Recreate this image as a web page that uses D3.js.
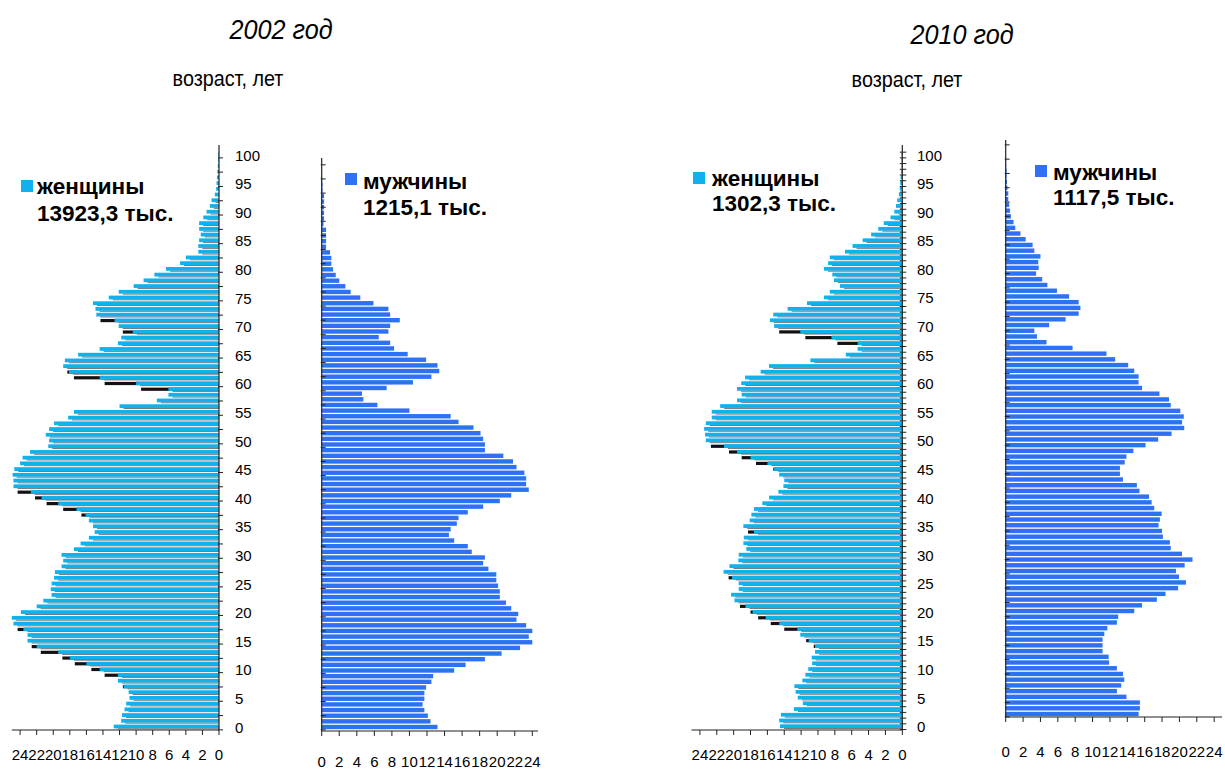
<!DOCTYPE html>
<html><head><meta charset="utf-8">
<script src="https://cdn.jsdelivr.net/npm/d3@7"></script>
<style>
body{margin:0;background:#fff}
svg{display:block}
text{font-family:"Liberation Sans",Arial,Helvetica,sans-serif;fill:#000}
</style>
</head><body>
<svg id="chart" width="1225" height="771"></svg>
<script>
// ---------------- DATA ----------------
const ages = d3.range(0, 101);
const ageLabels = d3.range(0, 101, 5);
const xTicks = d3.range(0, 25, 2);

const titles = ["2002 год", "2010 год"];
const axisTitle = "возраст, лет";
const legendWomen = ["женщины", "13923,3 тыс.", "1302,3 тыс."];
const legendMen = ["мужчины", "1215,1 тыс.", "1117,5 тыс."];

const women2002 = [12.7,11.8,11.7,11.4,11.2,10.8,10.9,11.5,12.2,12.2,
  14.4,16.0,18.0,19.4,22.0,23.1,23.1,23.6,24.8,25.0,
  23.9,22.0,21.2,20.2,20.3,20.2,19.9,19.8,19.0,18.8,
  19.0,17.5,16.7,15.7,15.0,15.2,15.7,16.1,17.2,19.4,
  21.4,22.7,24.8,24.8,24.9,24.7,24.0,23.7,22.8,20.6,
  20.5,20.9,20.5,19.9,18.2,17.5,12.0,7.5,6.1,6.1,
  10.0,14.4,18.1,18.8,18.6,17.0,14.4,12.2,11.8,10.4,
  12.1,12.6,14.8,14.9,15.2,13.3,12.1,10.3,9.1,7.8,
  6.4,4.7,4.0,2.5,2.5,2.4,2.2,2.4,2.4,1.9,
  1.5,1.1,0.9,0.5,0.35,0.3,0.25,0.2,0.15,0.1,0.1];
const women2002DarkAges = [7,9,10,11,12,13,14,17,37,38,39,40,41,59,60,61,62,69,71];
const women2002DarkVals = [11.6,13.8,15.4,17.4,18.9,21.5,22.6,24.3,16.6,18.8,20.8,22.2,24.3,9.4,13.8,17.5,18.3,11.6,14.3];

const men2002 = [13.2,12.4,12.1,11.7,11.5,11.7,11.7,11.9,12.5,12.7,
  15.1,16.4,18.6,20.5,22.6,24.0,23.6,24.0,23.3,22.2,
  22.4,21.6,21.0,20.3,20.3,20.1,19.9,19.9,19.0,18.4,
  18.6,17.1,16.65,15.1,14.5,14.7,15.4,15.6,16.65,18.4,
  20.3,21.6,23.6,23.3,23.3,23.1,22.2,21.8,20.7,18.6,
  18.6,18.4,18.1,17.3,15.6,14.7,10.0,6.35,4.75,4.6,
  7.4,10.4,12.5,13.4,13.2,11.9,9.8,8.25,7.8,6.5,
  7.6,7.8,8.9,7.8,7.6,5.9,4.4,3.3,2.7,2.0,
  1.6,1.3,1.1,1.1,0.95,0.5,0.5,0.5,0.5,0.2,
  0.27,0.27,0.27,0.27,0.27,0.1,0.1,0.05,0,0,0];

const women2010 = [14.5,14.6,14.4,12.85,11.8,12.4,12.65,12.8,11.85,11.5,
  11.15,10.7,10.75,10.35,10.35,11.1,12.1,12.45,14.6,16.2,
  17.75,18.6,19.9,20.3,19.4,19.4,20.2,21.2,20.5,19.45,
  19.4,18.5,18.85,18.8,17.6,18.85,18.1,17.9,17.6,16.6,
  15.8,14.7,14.1,14.0,14.6,15.2,16.0,18.0,19.6,21.15,
  23.3,23.4,23.5,23.3,22.6,22.6,21.6,19.6,19.05,19.6,
  19.1,18.65,16.8,15.8,10.9,6.7,5.3,5.3,8.4,12.1,
  15.2,15.7,15.3,13.6,11.3,9.3,8.6,7.4,8.1,8.3,
  9.3,8.8,8.6,6.8,5.9,4.7,3.7,2.85,2.2,1.4,
  0.95,0.75,0.6,0.4,0.3,0.25,0.2,0.15,0.1,0.1,0.1];
const women2010DarkAges = [14,15,17,18,19,20,21,26,34,45,46,47,48,49,67,68,69];
const women2010DarkVals = [10.5,11.4,14.0,15.6,17.1,18.0,19.25,20.6,18.3,15.3,17.35,19.05,20.55,22.7,7.7,11.5,14.6];

const men2010 = [15.3,15.45,15.45,13.9,12.8,13.3,13.65,13.5,12.8,11.9,
  11.85,11.15,11.15,11.15,11.35,11.7,12.8,12.95,14.8,15.7,
  17.4,18.4,19.85,20.75,19.95,19.6,20.6,21.5,20.3,19.0,
  18.9,18.1,18.0,17.6,17.75,17.95,17.1,16.8,16.5,15.4,
  15.1,13.5,13.15,13.15,13.7,13.9,14.7,16.1,17.55,19.1,
  20.55,20.3,20.5,20.1,19.0,18.8,17.7,15.7,15.3,15.3,
  14.8,14.1,12.6,11.6,7.7,4.7,3.6,3.3,5.0,6.9,
  8.4,8.6,8.4,7.3,5.9,4.8,4.2,3.5,3.8,3.75,
  4.0,3.3,3.1,2.3,1.7,1.1,0.9,0.6,0.5,0.4,
  0.3,0.3,0.2,0.15,0.1,0.1,0.05,0.05,0,0,0];

// ---------------- LAYOUT ----------------
const WOMEN = "#10b2ee", MEN = "#2e72f3";
const svg = d3.select("#chart");

const panels = [
  {type:"w", values:women2002, darkAges:women2002DarkAges, darkVals:women2002DarkVals,
   xDom:25, xR:[219, 11.8], yR:[727, 155], axisTop:145, axisBottom:730, tickLblY:760,
   ageLblX:235, tickEvery:2.5, legendText:[legendWomen[0], legendWomen[1]],
   legend:{sx:21, sy:180, tx:37, ty1:194, ty2:221}},
  {type:"m", values:men2002,
   xDom:24.65, xR:[321.7, 538], yR:[727, 162], axisTop:158, axisBottom:731, tickLblY:767,
   tickEvery:2.5, legendText:[legendMen[0], legendMen[1]],
   legend:{sx:345, sy:173, tx:363, ty1:189, ty2:215}},
  {type:"w", values:women2010, darkAges:women2010DarkAges, darkVals:women2010DarkVals,
   xDom:25, xR:[902.3, 691.5], yR:[726.7, 155], axisTop:145, axisBottom:730, tickLblY:760,
   ageLblX:917, tickEvery:1, legendText:[legendWomen[0], legendWomen[2]],
   legend:{sx:693, sy:172, tx:712, ty1:186, ty2:211}},
  {type:"m", values:men2010,
   xDom:24.9, xR:[1005.7, 1222], yR:[714, 142], axisTop:140, axisBottom:717, tickLblY:757,
   tickEvery:2.5, legendText:[legendMen[0], legendMen[2]],
   legend:{sx:1035, sy:165, tx:1053, ty1:180, ty2:205}}
];

panels.forEach(p => {
  const g = svg.append("g");
  const x = d3.scaleLinear().domain([0, p.xDom]).range(p.xR);
  const y = d3.scaleLinear().domain([0, 100]).range(p.yR);
  const x0 = x(0);
  const data = ages.map((a, i) => ({age:a, v:p.values[i]}));

  if (p.type === "w") {
    const dark = p.darkAges.map((a, i) => ({age:a, v:p.darkVals[i]}));
    g.selectAll("rect.dark").data(dark).join("rect")
      .attr("x", d => x(d.v)).attr("width", d => x0 - x(d.v))
      .attr("y", d => y(d.age) - 1.9).attr("height", 3.2)
      .attr("fill", "#111");
    g.selectAll("rect.bar").data(data.filter(d => d.v > 0)).join("rect")
      .attr("x", d => x(d.v)).attr("width", d => x0 - x(d.v))
      .attr("y", d => y(d.age) - 2.4).attr("height", 3.8)
      .attr("fill", WOMEN);
    g.selectAll("rect.sh").data(data.filter(d => d.v > 0)).join("rect")
      .attr("x", d => x(d.v) + 4).attr("width", d => Math.max(0, x0 - x(d.v) - 4))
      .attr("y", d => y(d.age) + 1.4).attr("height", 0.9)
      .attr("fill", "#6d6d6d");
  } else {
    g.selectAll("rect.bar").data(data.filter(d => d.v > 0)).join("rect")
      .attr("x", x0).attr("width", d => x(d.v) - x0)
      .attr("y", d => y(d.age) - 2.2).attr("height", 4.4)
      .attr("fill", MEN);
  }

  g.append("line").attr("x1", x0).attr("x2", x0)
    .attr("y1", p.axisTop).attr("y2", p.axisBottom)
    .attr("stroke", "#222").attr("stroke-width", 1.2);
  const vt = d3.range(-0.5, 100.6, p.tickEvery);
  g.selectAll("line.vt").data(vt).join("line")
    .attr("x1", p.type === "w" && p.tickEvery === 1 ? x0 - 2.5 : x0 - 1)
    .attr("x2", x0 + 4)
    .attr("y1", d => y(d)).attr("y2", d => y(d))
    .attr("stroke", "#222").attr("stroke-width", 1);

  g.append("line").attr("x1", p.xR[0]).attr("x2", p.xR[1])
    .attr("y1", p.axisBottom).attr("y2", p.axisBottom)
    .attr("stroke", "#222").attr("stroke-width", 1.2);
  g.selectAll("line.xt").data(xTicks).join("line")
    .attr("x1", d => x(d)).attr("x2", d => x(d))
    .attr("y1", p.axisBottom).attr("y2", p.axisBottom + 5)
    .attr("stroke", "#222").attr("stroke-width", 1);
  g.selectAll("text.xl").data(xTicks).join("text")
    .attr("x", d => x(d)).attr("y", p.tickLblY)
    .attr("text-anchor", "middle").attr("font-size", 15)
    .text(d => d);

  if (p.type === "w") {
    g.selectAll("text.al").data(ageLabels).join("text")
      .attr("x", p.ageLblX).attr("y", d => y(d) + 5.5)
      .attr("font-size", 15)
      .text(d => d);
  }

  g.append("rect").attr("x", p.legend.sx).attr("y", p.legend.sy)
    .attr("width", 12).attr("height", 12)
    .attr("fill", p.type === "w" ? WOMEN : MEN);
  g.append("text").attr("x", p.legend.tx).attr("y", p.legend.ty1)
    .attr("font-size", 22.5).attr("font-weight", "bold").text(p.legendText[0]);
  g.append("text").attr("x", p.legend.tx).attr("y", p.legend.ty2)
    .attr("font-size", 22.5).attr("font-weight", "bold").text(p.legendText[1]);
});

const tpos = [{cx:281, ty:39, ay:86, acx:228}, {cx:962, ty:44, ay:87, acx:907}];
tpos.forEach((t, i) => {
  svg.append("text").attr("transform", `translate(${t.cx},${t.ty}) scale(0.9,1)`)
    .attr("text-anchor", "middle").attr("font-size", 28).attr("font-style", "italic")
    .text(titles[i]);
  svg.append("text").attr("transform", `translate(${t.acx},${t.ay}) scale(0.9,1)`)
    .attr("text-anchor", "middle").attr("font-size", 22)
    .text(axisTitle);
});
</script>
</body></html>
